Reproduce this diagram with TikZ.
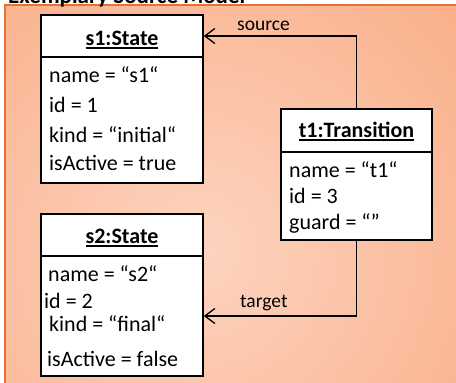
\documentclass[tikz,border=0pt]{standalone}
\usepackage{fontspec}
\setmainfont{Carlito}
\usetikzlibrary{arrows.meta}
\definecolor{peach}{RGB}{253,212,192}
\definecolor{orng}{RGB}{247,146,94}
\definecolor{framec}{RGB}{232,112,50}
\newcommand\ulbox[1]{\setbox0\hbox{#1}\rlap{\rule[-3.5pt]{\wd0}{1.6pt}}\box0}
\begin{document}
\begin{tikzpicture}[x=1pt,y=-1pt,
  box/.style={draw=black, line width=1.6pt, fill=white, inner sep=0pt},
  hdr/.style={anchor=base, font=\bfseries\fontsize{22}{26}\selectfont, inner sep=0pt},
  attr/.style={anchor=base west, font=\fontsize{22}{26}\selectfont, inner sep=0pt},
  lbl/.style={anchor=base west, font=\fontsize{19.5}{23}\selectfont, inner sep=0pt},
  conn/.style={line width=1.3pt, -{Straight Barb[length=10pt,width=15pt,line width=1.3pt]}}]
\useasboundingbox (0,0) rectangle (456,383);
\fill[white] (0,0) rectangle (456,383);
\begin{scope}
  \clip (5,5) rectangle (456,383);
  \shade[inner color=peach, outer color=orng] (200,250) circle (640pt);
\end{scope}
\draw[framec, line width=1.6pt] (5,383) -- (5,5) -- (456,5);
\node[anchor=base west, font=\bfseries\fontsize{23}{27}\selectfont, inner sep=0pt] (title) at (8,3) {Exemplary Source Model};

% s1
\node[box, minimum width=162pt, minimum height=42pt] (s1h) at (122,36) {};
\node[box, minimum width=162pt, minimum height=126pt] (s1b) at (122,120) {};
\node[hdr] (s1t) at (122,45) {\ulbox{s1:State}};
\node[attr] (s1a1) at (49,82) {name = “s1“};
\node[attr] (s1a2) at (49,112) {id = 1};
\node[attr] (s1a3) at (49,142) {kind = “initial“};
\node[attr] (s1a4) at (49,170) {isActive = true};

% s2
\node[box, minimum width=162pt, minimum height=42pt] (s2h) at (122,235) {};
\node[box, minimum width=162pt, minimum height=120pt] (s2b) at (122,316) {};
\node[hdr] (s2t) at (122,243) {\ulbox{s2:State}};
\node[attr] (s2a1) at (48,281) {name = “s2“};
\node[attr] (s2a2) at (44,308) {id = 2};
\node[attr] (s2a3) at (49,331) {kind = “final“};
\node[attr] (s2a4) at (47,366) {isActive = false};

% t1
\node[box, minimum width=151pt, minimum height=43pt] (t1h) at (356.5,130.5) {};
\node[box, minimum width=151pt, minimum height=88pt] (t1b) at (356.5,196) {};
\node[hdr] (t1t) at (356.5,137) {\ulbox{t1:Transition}};
\node[attr] (t1a1) at (289,177) {name = “t1“};
\node[attr] (t1a2) at (289,203) {id = 3};
\node[attr] (t1a3) at (289,229) {guard = “”};

% connectors
\draw[conn] (t1h.north) |- (s1h.east);
\draw[conn] (t1b.south) |- (s2b.east);
\node[lbl] (src) at (237,30) {source};
\node[lbl] (tgt) at (240,307) {target};
\end{tikzpicture}
\end{document}
